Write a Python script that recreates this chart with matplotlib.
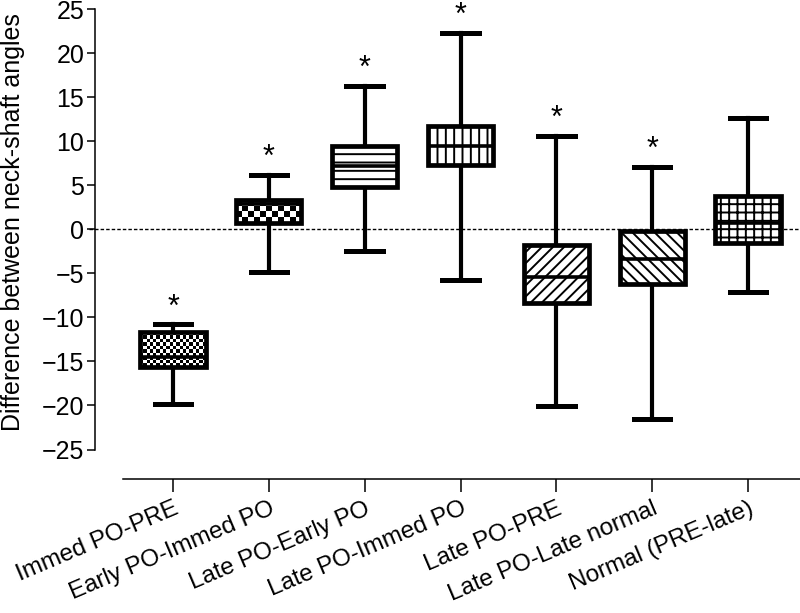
import numpy as np
import matplotlib
matplotlib.use("Agg")
import matplotlib.pyplot as plt

plt.rcParams['font.family'] = ['Liberation Sans', 'DejaVu Sans']
plt.rcParams['hatch.linewidth'] = 1.4

categories = ["Immed PO-PRE", "Early PO-Immed PO", "Late PO-Early PO",
              "Late PO-Immed PO", "Late PO-PRE", "Late PO-Late normal",
              "Normal (PRE-late)"]
whisker_low = [-19.8, -4.8, -2.4, -5.7, -20.1, -21.5, -7.1]
q1 = [-15.6, 0.7, 4.8, 7.3, -8.35, -6.2, -1.5]
median = [-14.5, 2.9, 7.2, 9.45, -5.4, -3.4, 0.75]
q3 = [-11.7, 3.3, 9.5, 11.7, -1.8, -0.2, 3.8]
whisker_high = [-10.8, 6.2, 16.3, 22.3, 10.6, 7.1, 12.7]
significant = [True, True, True, True, True, True, False]
hatches = ["checker_fine", "checker_coarse", "--", "||", "///", "\\\\\\", "++"]
yticks = [25, 20, 15, 10, 5, 0, -5, -10, -15, -20, -25]

FS = 18

fig = plt.figure(figsize=(8, 6.13), dpi=100)
ax = fig.add_axes([0.1538, 0.2186, 0.8462, 0.7748])

positions = np.arange(1, len(categories) + 1)
stats = []
for i in range(len(categories)):
    stats.append(dict(med=median[i], q1=q1[i], q3=q3[i],
                      whislo=whisker_low[i], whishi=whisker_high[i],
                      label=categories[i]))

bw = 0.68
res = ax.bxp(stats, positions=positions, widths=bw, showfliers=False,
             patch_artist=True, capwidths=0.38,
             boxprops=dict(linewidth=3.4, edgecolor='black', facecolor='white'),
             whiskerprops=dict(linewidth=3.0, color='black'),
             capprops=dict(linewidth=3.6, color='black'),
             medianprops=dict(linewidth=2.6, color='black'))

for i, box in enumerate(res['boxes']):
    box.set_zorder(3)
    h = hatches[i]
    if h.startswith('checker'):
        box.set_facecolor('none')
        if h == 'checker_fine':
            nx, ny = 20, 10
        else:
            nx, ny = 11, 4
        yy, xx = np.indices((ny, nx))
        board = (xx + yy) % 2
        im = ax.imshow(board, cmap='gray', interpolation='nearest',
                       extent=(positions[i] - bw / 2, positions[i] + bw / 2,
                               q1[i], q3[i]),
                       aspect='auto', zorder=2.5, vmin=0, vmax=1)
        im.set_clip_path(box)
    else:
        box.set_hatch(h)
for m in res['medians']:
    m.set_zorder(4)

for i in range(len(categories)):
    if significant[i]:
        ax.text(positions[i], whisker_high[i] + 1.9, "*", ha='center',
                va='center', fontsize=22)

ax.axhline(0, color='black', linewidth=1.0, linestyle=(0, (2.5, 1.5)),
           zorder=1, xmin=-0.05, clip_on=False)

ax.set_xlim(0.478, 7.543)
ax.set_ylim(-28.35, 25.6)

ax.spines['top'].set_visible(False)
ax.spines['right'].set_visible(False)
ax.spines['left'].set_position(('outward', 20))
ax.spines['left'].set_bounds(-25, 25)
ax.spines['left'].set_linewidth(1.1)
ax.spines['bottom'].set_linewidth(1.1)

ax.set_yticks(yticks)
ax.set_yticklabels([str(t).replace('-', '\u2212') for t in yticks])
ax.set_xticks(positions)
ax.set_xticklabels(categories, rotation=23, ha='right', va='top',
                   rotation_mode='anchor')
ax.tick_params(axis='y', length=6, width=1.1, pad=2, labelsize=FS)
ax.tick_params(axis='x', length=9.5, width=1.1, pad=4, labelsize=17.5)

ax.set_ylabel("Difference between neck-shaft angles", fontsize=FS)
ax.yaxis.set_label_coords(-0.145, 0.541)

fig.savefig("out.png", dpi=100)
